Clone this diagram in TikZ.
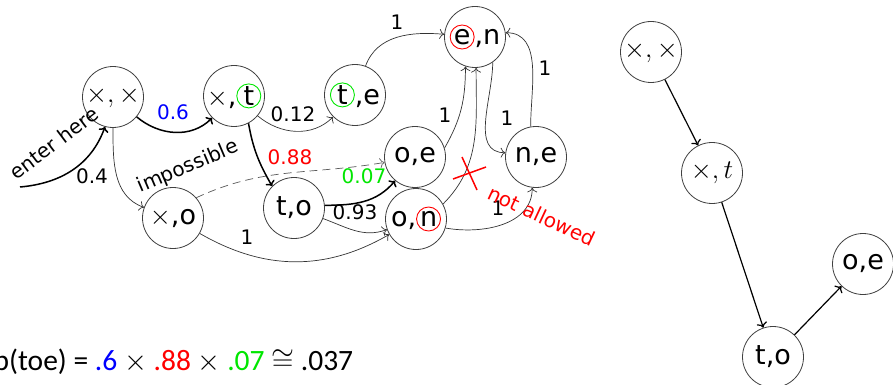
\documentclass[tikz,border=0pt]{standalone}
\usepackage{fix-cm}
\usepackage{fontspec}
\setmainfont{DejaVu Sans}
\newfontfamily\formfont{Carlito}
\usetikzlibrary{arrows.meta}
\definecolor{brgreen}{RGB}{0,230,0}
\definecolor{brred}{RGB}{255,0,0}
\definecolor{brblue}{RGB}{0,0,255}
\newcommand\ringed[3]{\tikz[baseline=(#3.base)]\node[circle,draw=#2,line width=0.9pt,minimum size=24pt,inner sep=0pt,anchor=center,fill=none,text=black,rotate=0](#3){#1};}
\begin{document}
\begin{tikzpicture}[x=1pt,y=1pt,
  st/.style={circle,draw=black!75,line width=0.8pt,minimum size=61pt,inner sep=0pt,font=\fontsize{27}{32}\selectfont},
  lab/.style={font=\fontsize{20}{24}\selectfont,inner sep=0pt},
  thinarr/.style={draw=black!80,line width=0.7pt,-{To[scale=1.5]}},
  thickarr/.style={draw=black,line width=1.5pt,-{To[scale=1.0]}},
  dasharr/.style={draw=black!65,line width=0.7pt,dash pattern=on 8pt off 5pt,-{To[scale=1.5]}},
  rarr/.style={draw=black,line width=1.2pt,-{To[scale=1.2]}}]
\useasboundingbox (0,0) rectangle (893,-385);
\clip (0,0) rectangle (893,-385);

% left graph nodes
\node[st] (xx) at (113,-97) {$\times, \times$};
\node[st] (xt) at (234,-96) {$\times$,\ringed{t}{brgreen}{rxt}};
\node[st] (te) at (355,-95) {\ringed{t}{brgreen}{rte},e};
\node[st] (en) at (475,-37) {\ringed{e}{brred}{ren},n};
\node[st] (oe) at (415,-157) {o,e};
\node[st] (ne) at (536,-157) {n,e};
\node[st] (on) at (416,-219) {o,\ringed{n}{brred}{ron}};
\node[st] (to) at (294,-208) {t,o};
\node[st] (xo) at (173,-218) {$\times$,o};

% right graph nodes
\node[st] (Rxx) at (651,-52) {$\times, \times$};
\node[st] (Rxt) at (712,-173) {$\times, t$};
\node[st] (Rto) at (773,-357) {t,o};
\node[st] (Roe) at (863,-264) {o,e};

% entry
\coordinate (start) at (20,-187);
\draw[thickarr] (start) to[out=5,in=-110] (xx.-105);

% edges
\draw[thickarr] (xx.-40) to[out=-40,in=-135] (xt.-135);
\draw[thinarr] (xx.-90) to[out=-90,in=160] (xo.160);
\draw[thinarr] (xt.-40) to[out=-40,in=-135] (te.-135);
\draw[thickarr] (xt.-62) to[out=-80,in=120] (to.135);
\draw[dasharr] (xo.41) to[out=25,in=190] (oe.190);
\draw[thickarr] (to.5) to[out=0,in=-130] (oe.-130);
\draw[thinarr] (to.-20) to[out=-20,in=-160] (on.-160);
\draw[thinarr] (xo.-30) to[out=-30,in=-150] (on.-150);
\draw[thinarr] (te.70) to[out=70,in=175] (en.175);
\draw[thinarr] (oe.17) to[out=60,in=-90] (en.-108);
\draw[thinarr] (on.29) to[out=45,in=-90] (en.-88);
\draw[thinarr] (en.-55) to[out=-90,in=180] (ne.172);
\draw[thinarr] (ne.100) to[out=90,in=0] (en.8);
\draw[thinarr] (on.-17) to[out=-10,in=-90] (ne.-97);

% right graph edges
\draw[rarr] (Rxx) -- (Rxt);
\draw[rarr] (Rxt) -- (Rto);
\draw[rarr] (Rto) -- (Roe);

% labels
\node[lab] (l04) at (92,-176) {0.4};
\node[lab,text=brblue] (l06) at (173,-112) {0.6};
\node[lab] (l012) at (293,-114) {0.12};
\node[lab,text=brred] (l088) at (290,-157) {0.88};
\node[lab,text=brgreen] (l007) at (364,-176) {0.07};
\node[lab] (l093) at (355,-212) {0.93};
\node[lab] (l1a) at (247,-237) {1};
\node[lab] (l1b) at (397,-22) {1};
\node[lab] (l1c) at (445,-115) {1};
\node[lab] (l1d) at (507,-118) {1};
\node[lab] (l1e) at (545,-68) {1};
\node[lab] (l1f) at (498,-208) {1};
\node[lab,rotate=37] (enterlab) at (54,-143) {enter here};
\node[lab,rotate=23] (implab) at (188,-167) {impossible};
\node[lab,text=brred,rotate=-25] (nalab) at (542,-216) {not allowed};

% red cross
\draw[brred,line width=1.5pt] (453,-179) -- (486,-167);
\draw[brred,line width=1.5pt] (462,-157) -- (477,-190);

% formula
\node[anchor=base west,inner sep=0pt,font=\formfont\fontsize{29.5}{34}\selectfont] (formula) at (-6.5,-370)
  {p(toe) = \textcolor{brblue}{.6} $\times$ \textcolor{brred}{.88} $\times$ \textcolor{brgreen}{.07} $\cong$ .037};
\end{tikzpicture}
\end{document}
